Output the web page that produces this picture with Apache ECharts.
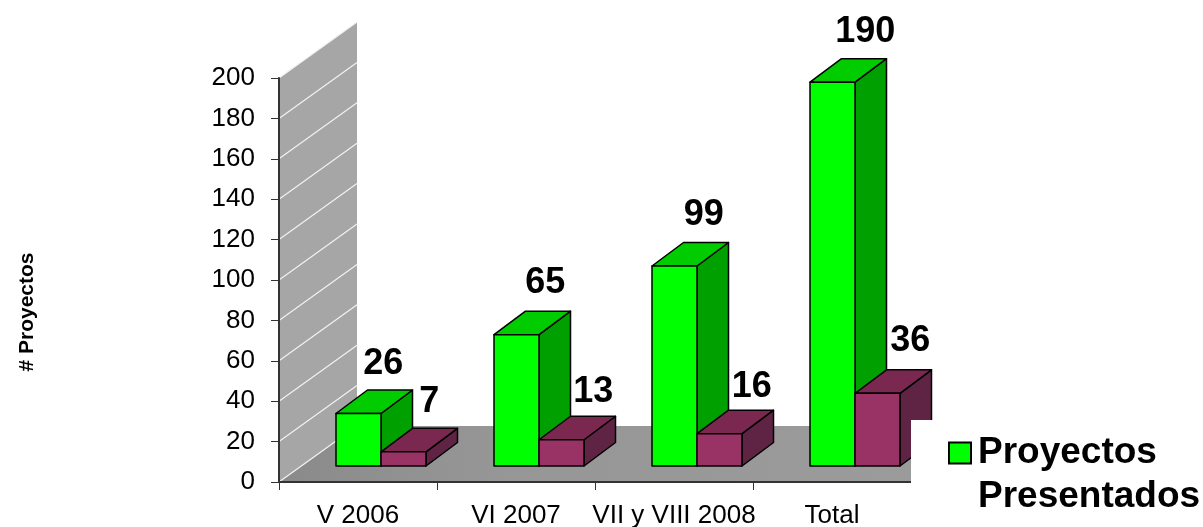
<!DOCTYPE html>
<html><head><meta charset="utf-8">
<style>html,body{margin:0;padding:0;background:#fff}#c{width:1203px;height:527px}</style>
<script src="https://cdn.jsdelivr.net/npm/echarts@6/dist/echarts.min.js"></script>
</head><body><div id="c"></div>
<script>
const categories = ['V 2006', 'VI 2007', 'VII y VIII 2008', 'Total'];
const presentados = [26, 65, 99, 190];
const segundaSerie = [7, 13, 16, 36];
const yTicks = [0, 20, 40, 60, 80, 100, 120, 140, 160, 180, 200];

// style / layout constants
const FONT = '"Liberation Sans", Arial, sans-serif';
const WALL_D = [78, 56], BAR_D = [31.5, 23.5], FLOOR_SHIFT = [23, 16], BAR_W = 45;
const nudgeA = [[9, -38], [13, -40], [13.5, -39], [17, -38]];
const nudgeB = [[10, -38], [16, -36], [16.5, -35], [17, -40]];

function poly(points, fill, stroke, z2) {
  return { type: 'polygon', shape: { points }, z2: z2 || 0,
    style: { fill, stroke: stroke || null, lineWidth: stroke ? 1.5 : 0, lineJoin: 'round' } };
}
function barRender(colors, side, nudge) {
  return function (params, api) {
    const i = api.value(0), v = api.value(1);
    const base = api.coord([i, 0]), top = api.coord([i, v]);
    const x0 = base[0] + FLOOR_SHIFT[0] + (side === 0 ? -BAR_W : 0);
    const x1 = x0 + BAR_W;
    const yb = base[1] - FLOOR_SHIFT[1], yt = top[1] - FLOOR_SHIFT[1];
    const dx = BAR_D[0], dy = BAR_D[1], s = '#000';
    const n = nudge[i];
    const cx = (x0 + x1) / 2 + dx / 2 + n[0], cy = yt - dy / 2 + n[1];
    return { type: 'group', children: [
      poly([[x1, yb], [x1 + dx, yb - dy], [x1 + dx, yt - dy], [x1, yt]], colors[2], s),
      poly([[x0, yt], [x1, yt], [x1 + dx, yt - dy], [x0 + dx, yt - dy]], colors[1], s),
      poly([[x0, yb], [x1, yb], [x1, yt], [x0, yt]], colors[0], s),
      { type: 'text', x: cx, y: cy, z2: 5, style: { text: String(v), fill: '#000',
        font: 'bold 36px ' + FONT, align: 'center', verticalAlign: 'middle' } }
    ] };
  };
}
function wallRender(params, api) {
  const band = api.size([1, 0])[0];
  const n = categories.length;
  const p0 = api.coord([0, 0]), pt = api.coord([0, 200]), pr = api.coord([n - 1, 0]);
  const l = p0[0] - band / 2, r = pr[0] + band / 2, b = p0[1], t = pt[1];
  const dx = WALL_D[0], dy = WALL_D[1];
  const children = [
    poly([[l, b], [l + dx, b - dy], [r + dx, b - dy], [r, b]],
      { type: 'linear', x: 0, y: 0, x2: 1, y2: 0, colorStops: [{ offset: 0, color: '#8a8a8a' }, { offset: 0.3, color: '#969696' }, { offset: 1, color: '#9c9c9c' }] }),
    poly([[l, b], [l + dx, b - dy], [l + dx, t - dy], [l, t]], '#a6a6a6')
  ];
  yTicks.forEach(function (v) {
    const y = api.coord([0, v])[1];
    children.push({ type: 'line', shape: { x1: l, y1: y, x2: l + dx, y2: y - dy },
      style: { stroke: '#f2f2f2', lineWidth: 1.2 } });
  });
  return { type: 'group', children };
}

const chart = echarts.init(document.getElementById('c'), null, { renderer: 'canvas' });
chart.setOption({
  animation: false,
  backgroundColor: '#fff',
  textStyle: { fontFamily: FONT },
  grid: { left: 279, right: 292, top: 78, bottom: 45, outerBoundsMode: 'none', containLabel: false },
  xAxis: {
    type: 'category', data: categories, z: 5,
    axisLine: { lineStyle: { color: '#333', width: 2 } },
    axisTick: { show: true, length: 8, lineStyle: { color: '#333', width: 1 } },
    axisLabel: { color: '#000', fontSize: 26, fontFamily: FONT, margin: 21, interval: 0 }
  },
  yAxis: {
    type: 'value', min: 0, max: 200, interval: 20, z: 5,
    name: '# Proyectos', nameLocation: 'middle', nameGap: 241, nameRotate: 90,
    nameTextStyle: { color: '#000', fontSize: 21, fontWeight: 'bold', fontFamily: FONT, padding: [0, 64, 0, 0] },
    axisLine: { show: true, lineStyle: { color: '#333', width: 2 } },
    axisTick: { show: true, length: 8, lineStyle: { color: '#333', width: 1 } },
    axisLabel: { color: '#000', fontSize: 26, fontFamily: FONT, margin: 24, padding: [3, 0, 0, 0] },
    splitLine: { show: false }
  },
  graphic: [{ type: 'rect', z: 10, silent: true, shape: { x: 911, y: 420, width: 292, height: 107 }, style: { fill: '#fff' } }],
  legend: {
    show: true, left: 948, top: 387, orient: 'vertical', z: 20, padding: 0,
    itemWidth: 22, itemHeight: 21,
    data: [{ name: 'Proyectos Presentados', icon: 'rect',
      itemStyle: { color: '#00ff00', borderColor: '#000', borderWidth: 2 } }],
    formatter: function () { return '\nProyectos\nPresentados'; },
    selectedMode: false,
    textStyle: { color: '#000', fontSize: 37, fontWeight: 'bold', fontFamily: FONT, lineHeight: 44, padding: [0, 0, 0, 2] }
  },
  series: [
    { type: 'custom', name: 'Fondo', z: 1, silent: true, clip: false, renderItem: wallRender, data: [[0, 0]],
      encode: { x: 0, y: 1 } },
    { type: 'custom', name: 'Proyectos Presentados', z: 2, clip: false, silent: true,
      itemStyle: { color: '#00ff00' },
      renderItem: barRender(['#00ff00', '#00cc00', '#00a000'], 0, nudgeA),
      data: presentados.map((v, i) => [i, v]), encode: { x: 0, y: 1 } },
    { type: 'custom', name: 'Segunda serie', z: 3, clip: false, silent: true,
      itemStyle: { color: '#993366' },
      renderItem: barRender(['#993366', '#7a2850', '#5f2444'], 1, nudgeB),
      data: segundaSerie.map((v, i) => [i, v]), encode: { x: 0, y: 1 } }
  ]
});
</script></body></html>
